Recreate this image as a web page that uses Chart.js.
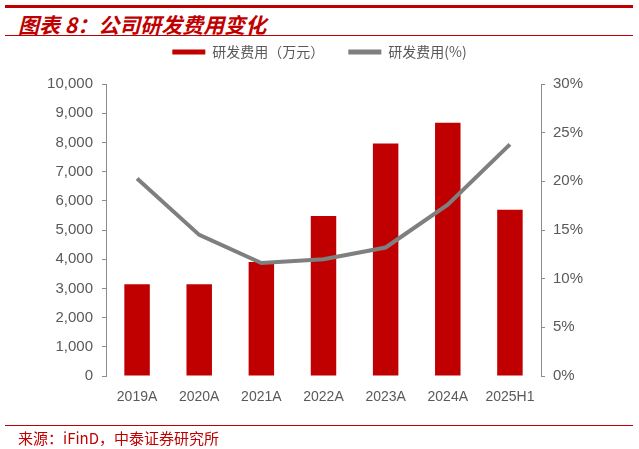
<!DOCTYPE html>
<html>
<head>
<meta charset="utf-8">
<script src="https://cdn.jsdelivr.net/npm/chart.js@4"></script>
<style>
  body { margin: 0; background: #fff; }
  #wrap { position: relative; width: 639px; height: 449px; overflow: hidden; }
  #chartBox { position: absolute; left: 0; top: 0; width: 639px; height: 449px; }
  .rule { position: absolute; left: 5px; width: 628px; background: #c00000; }
  #title { position: absolute; left: 18px; top: 9px; line-height: 22px; font: italic bold 21px "Noto Sans CJK SC", sans-serif; color: #c00000; white-space: nowrap; }
  #source { position: absolute; left: 18px; top: 427px; line-height: 20px; font: 15px "Noto Sans CJK SC", sans-serif; color: #c00000; white-space: nowrap; }
</style>
</head>
<body>
<div id="wrap">
  <div class="rule" style="top:5px;height:3px;"></div>
  <div id="title">图表 8：公司研发费用变化</div>
  <div class="rule" style="top:35px;height:1px;"></div>
  <div id="chartBox"><canvas id="rd"></canvas></div>
  <div class="rule" style="top:425px;height:1px;"></div>
  <div id="source">来源：iFinD，中泰证券研究所</div>
</div>
<script>
// values
const years = ['2019A', '2020A', '2021A', '2022A', '2023A', '2024A', '2025H1'];
const rdSpend = [3140, 3140, 3900, 5480, 7960, 8670, 5690];   // 万元
const rdRatio = [20.3, 14.5, 11.6, 12.0, 13.2, 17.6, 23.8];  // %
const spendTicks = [0, 10000, 1000];
const ratioTicks = [0, 30, 5];

const red = '#c00000';
const grey = '#7f7f7f';
const textGrey = '#595959';
const axisGrey = '#8c8c8c';

// leave more room under the legend than chart.js gives by default
const legendGap = {
  id: 'legendGap',
  beforeLayout(chart) {
    const lg = chart.legend;
    if (lg && !lg._gapDone) {
      const fit = lg.fit;
      lg.fit = function () { fit.call(this); this.height += 15; };
      lg._gapDone = true;
    }
  }
};

const ctx = document.getElementById('rd').getContext('2d');

const chart = new Chart(ctx, {
  type: 'bar',
  data: {
    labels: years,
    datasets: [{
      type: 'bar',
      label: '研发费用（万元）',
      data: rdSpend,
      backgroundColor: red,
      yAxisID: 'y',
      order: 1,
      categoryPercentage: 1,
      barPercentage: 0.41
    }, {
      type: 'line',
      label: '研发费用(%)',
      data: rdRatio,
      borderColor: grey,
      backgroundColor: grey,
      borderWidth: 4,
      pointRadius: 0,
      tension: 0,
      yAxisID: 'y1',
      order: 0
    }]
  },
  plugins: [legendGap],
  options: {
    responsive: true,
    maintainAspectRatio: false,
    animation: false,
    layout: { padding: { top: 21, left: 0, right: 0, bottom: 33 } },
    plugins: {
      tooltip: { enabled: false },
      legend: {
        position: 'top',
        labels: {
          boxWidth: 33,
          boxHeight: 5,
          padding: 24,
          color: textGrey,
          font: { family: '"Noto Sans CJK SC", sans-serif', size: 14 },
          generateLabels(chart) {
            const items = Chart.defaults.plugins.legend.labels.generateLabels(chart);
            items.forEach(it => {
              it.lineWidth = 0;
              it.strokeStyle = 'rgba(0,0,0,0)';
              it.fillStyle = it.datasetIndex === 0 ? red : grey;
            });
            return items.sort((a, b) => a.datasetIndex - b.datasetIndex);
          }
        }
      }
    },
    scales: {
      x: {
        grid: { display: false },
        border: { display: false },
        ticks: { color: textGrey, padding: 5, font: { family: '"Liberation Sans", Arial, sans-serif', size: 14 } },
        afterFit(scale) { scale.height = 40; }
      },
      y: {
        position: 'left',
        min: spendTicks[0],
        max: spendTicks[1],
        ticks: {
          stepSize: spendTicks[2],
          color: textGrey,
          padding: 9,
          font: { family: '"Liberation Sans", Arial, sans-serif', size: 15 },
          callback: v => v.toLocaleString('en-US')
        },
        grid: { drawOnChartArea: false, drawTicks: true, tickLength: 4, color: axisGrey },
        border: { display: true, color: axisGrey, width: 1 },
        afterFit(scale) { scale.width = 106; }
      },
      y1: {
        position: 'right',
        min: ratioTicks[0],
        max: ratioTicks[1],
        ticks: {
          stepSize: ratioTicks[2],
          color: textGrey,
          padding: 8,
          font: { family: '"Liberation Sans", Arial, sans-serif', size: 15 },
          callback: v => v + '%'
        },
        grid: { drawOnChartArea: false, drawTicks: true, tickLength: 4, color: axisGrey },
        border: { display: true, color: axisGrey, width: 1 },
        afterFit(scale) { scale.width = 98; }
      }
    }
  }
});
</script>
</body>
</html>
